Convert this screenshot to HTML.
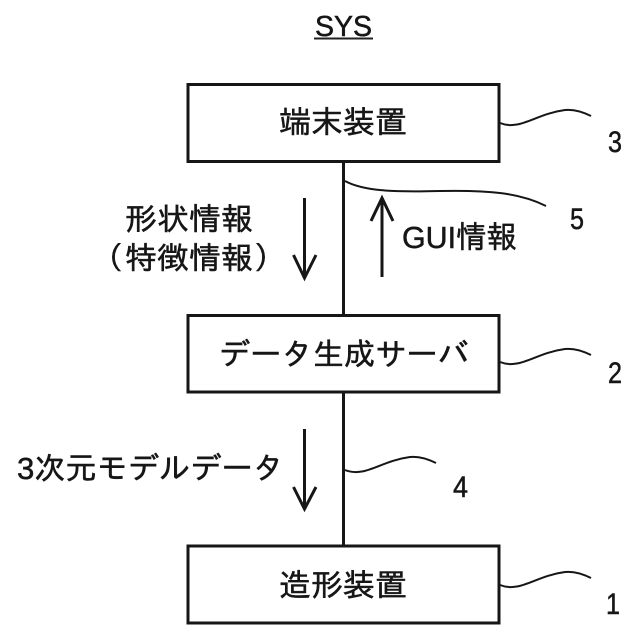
<!DOCTYPE html>
<html lang="ja">
<head>
<meta charset="utf-8">
<style>
html,body{margin:0;padding:0;background:#fff;width:640px;height:640px;overflow:hidden}
svg{display:block}
text{font-family:"Liberation Sans","IPAGothic","Noto Sans CJK JP",sans-serif;fill:#161616;stroke:#161616;stroke-width:.5px}
.j{font-size:31px}
.n{font-size:30px}
</style>
</head>
<body>
<svg width="640" height="640" viewBox="0 0 640 640" xmlns="http://www.w3.org/2000/svg">
<rect width="640" height="640" fill="#fff"/>
<text x="315" y="36" font-size="29" textLength="57" lengthAdjust="spacingAndGlyphs">SYS</text>
<line x1="314" y1="38.5" x2="373" y2="38.5" stroke="#222" stroke-width="2"/>
<g fill="none" stroke="#161616" stroke-width="3">
<rect x="188" y="84.5" width="311" height="77"/>
<rect x="188" y="315.5" width="311" height="76.5"/>
<rect x="188" y="546" width="311" height="77"/>
<line x1="343.5" y1="162" x2="343.5" y2="315"/>
<line x1="343.5" y1="392" x2="343.5" y2="546"/>
</g>
<g fill="none" stroke="#161616" stroke-width="2">
<path d="M500 123C520 131 535 114 565 110C575 109 585 113 591 116"/>
<path d="M500 362C520 370 535 353 565 349C575 348 585 352 591 355"/>
<path d="M500 585C520 593 535 576 565 572C575 571 585 575 591 578"/>
<path d="M345 470C365 478 380 461 410 457C420 456 430 460 436 463"/>
<path d="M345 181C365 192 400 192 440 191C490 190 520 193 546 206"/>
<path d="M304.5 198V278M293.5 255L304.5 278L316 255" stroke-width="3"/>
<path d="M382 277V198M371 221L382 198L393 221" stroke-width="3"/>
<path d="M304.5 429V509M293.5 487L304.5 509L316 487" stroke-width="3"/>
</g>
<text class="j" x="279" y="133" textLength="128" lengthAdjust="spacingAndGlyphs">端末装置</text>
<text class="j" x="125" y="230" textLength="128" lengthAdjust="spacingAndGlyphs">形状情報</text>
<text class="j" x="92" y="269">（</text>
<text class="j" x="125" y="269" textLength="128" lengthAdjust="spacingAndGlyphs">特徴情報</text>
<text class="j" x="254" y="269">）</text>
<text class="j" x="402" y="248" textLength="115" lengthAdjust="spacingAndGlyphs">GUI情報</text>
<text class="j" x="219" y="365" textLength="250" lengthAdjust="spacingAndGlyphs">データ生成サーバ</text>
<text class="j" x="17" y="479" textLength="267" lengthAdjust="spacingAndGlyphs">3次元モデルデータ</text>
<text class="j" x="279" y="596" textLength="128" lengthAdjust="spacingAndGlyphs">造形装置</text>
<text class="n" x="608" y="152" textLength="14" lengthAdjust="spacingAndGlyphs">3</text>
<text class="n" x="570" y="229" textLength="14" lengthAdjust="spacingAndGlyphs">5</text>
<text class="n" x="608" y="383" textLength="14" lengthAdjust="spacingAndGlyphs">2</text>
<text class="n" x="453" y="497" textLength="15" lengthAdjust="spacingAndGlyphs">4</text>
<text class="n" x="606" y="614" textLength="14" lengthAdjust="spacingAndGlyphs">1</text>
</svg>
</body>
</html>
